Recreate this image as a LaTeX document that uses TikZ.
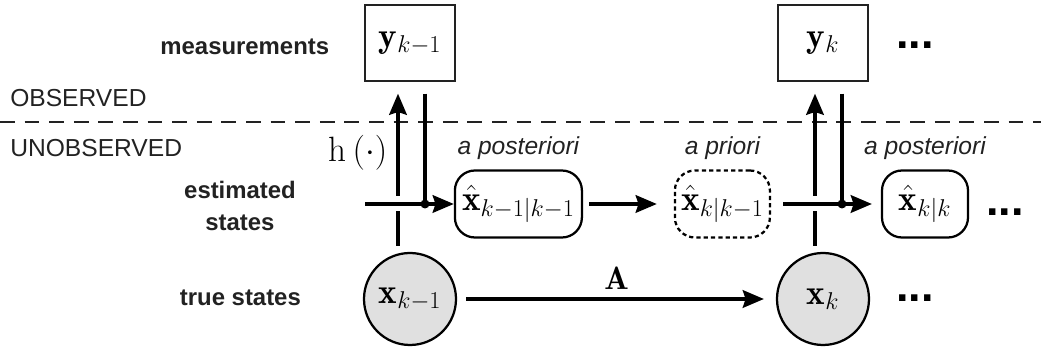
\documentclass[tikz,border=0pt]{standalone}
\usepackage{fontspec}
\setsansfont{Liberation Sans}
\usetikzlibrary{positioning, arrows.meta, calc}
\definecolor{inkgray}{HTML}{222222}
\definecolor{stategray}{HTML}{E0E0E0}

\begin{document}
\begin{tikzpicture}[
    font=\sffamily\fontsize{17.5}{22.5}\selectfont,
    rowlabel/.style={align=center, text=inkgray, font=\sffamily\bfseries\fontsize{17}{22.5}\selectfont},
    zonelabel/.style={anchor=west, inner sep=0pt, text=inkgray},
    phaselabel/.style={text=inkgray, font=\sffamily\itshape\fontsize{17.5}{22.5}\selectfont},
    mathtext/.style={font=\fontsize{25}{29}\selectfont},
    measbox/.style={rectangle, draw=inkgray, line width=1pt, minimum width=2.25cm, minimum height=1.9cm, inner sep=0pt, mathtext},
    estbox/.style={rectangle, draw=black, line width=1.6pt, rounded corners=0.5cm, minimum height=1.675cm, inner sep=0pt, mathtext},
    priorbox/.style={estbox, dash pattern=on 3pt off 2.2pt},
    statecircle/.style={circle, draw=black, fill=stategray, line width=1.6pt, minimum size=2.3cm, inner sep=0pt, mathtext},
    moredots/.style={inner sep=0pt, font=\sffamily\bfseries\fontsize{32}{32}\selectfont},
    wire/.style={black, line width=2.35pt},
    arrowed/.style={-{Stealth[length=15pt, width=12.5pt, inset=2pt]}},
    sepline/.style={inkgray, line width=0.9pt, dash pattern=on 10.5pt off 7pt}
]
\useasboundingbox (0,0) rectangle (26.025,-8.7);

% ==================== ROW LABELS ====================
\node[rowlabel] (meas) at (6.12,-1.175) {measurements};
\node[rowlabel] (est) at (6.0,-5.15) {estimated\\states};
\node[rowlabel] (true) at (6.01,-7.45) {true states};

\node[zonelabel] (obs) at (0.25,-2.46) {OBSERVED};
\node[zonelabel] (unobs) at (0.25,-3.71) {UNOBSERVED};

% ==================== NODES ====================
\node[measbox] (yk1) at (10.25,-1.075) {$\mathbf{y}_{k-1}$};
\node[measbox] (yk) at (20.575,-1.075) {$\mathbf{y}_{k}$};

\node[estbox, minimum width=3.175cm] (post1) at (12.96,-5.1) {$\hat{\mathbf{x}}_{k-1|k-1}$};
\node[priorbox, minimum width=2.375cm] (prior) at (18.06,-5.1) {$\hat{\mathbf{x}}_{k|k-1}$};
\node[estbox, minimum width=2.15cm] (post2) at (23.125,-5.1) {$\hat{\mathbf{x}}_{k|k}$};

\node[statecircle] (xk1) at (10.25,-7.475) {$\mathbf{x}_{k-1}$};
\node[statecircle] (xk) at (20.575,-7.475) {$\mathbf{x}_{k}$};

\node[moredots] (ydots) at (22.875,-1.125) {...};
\node[moredots] (estdots) at (25.125,-5.3) {...};
\node[moredots] (xdots) at (22.875,-7.45) {...};

% ==================== ANNOTATIONS ====================
\node[phaselabel, above=0.12cm of post1] (postlab1) {a posteriori};
\node[phaselabel, above=0.12cm of prior] (priorlab) {a priori};
\node[phaselabel, above=0.12cm of post2] (postlab2) {a posteriori};
\node[mathtext] (hlab) at (8.95,-3.83) {$\mathrm{h}\,(\cdot)$};

% ==================== SEPARATOR ====================
\coordinate (sepL) at (0,-3.05);
\coordinate (sepR) at (26.025,-3.05);
\draw[sepline] (sepL) -- (sepR);

% ==================== STEP k-1 ====================
\coordinate (hupA) at ($(yk1.south)+(-0.3,-0.3)$);
\coordinate (updA) at ($(yk1.south)+(0.375,-0.3)$);
\coordinate (joinA) at (updA |- post1.west);
\coordinate (feedA) at ($(hupA |- post1.west)+(-0.825,0)$);

\draw[wire] ($(xk1.north)+(-0.3,0.15)$) -- ($(hupA |- post1.west)+(0,-0.175)$);
\draw[wire, arrowed] ($(hupA |- post1.west)+(0,0.2)$) -- (hupA);
\draw[wire] (updA) -- (joinA);
\draw[wire, arrowed] (feedA) -- (post1.west);
\fill (joinA) circle (3.2pt);

% ==================== PREDICTION ====================
\draw[wire, arrowed, shorten <=0.15cm, shorten >=0.425cm] (post1.east) -- (prior.west);
\draw[wire, arrowed, shorten <=0.225cm, shorten >=0.3cm] (xk1.east) -- (xk.west)
    node[midway, above=2pt, font=\fontsize{23}{27}\selectfont] (Alab) {$\mathbf{A}$};

% ==================== STEP k ====================
\coordinate (hupB) at ($(yk.south)+(-0.2,-0.3)$);
\coordinate (updB) at ($(yk.south)+(0.475,-0.3)$);
\coordinate (joinB) at (updB |- post2.west);

\draw[wire] ($(xk.north)+(-0.2,0.15)$) -- ($(hupB |- post2.west)+(0,-0.175)$);
\draw[wire, arrowed] ($(hupB |- post2.west)+(0,0.2)$) -- (hupB);
\draw[wire] (updB) -- (joinB);
\draw[wire, arrowed, shorten <=0.3cm, shorten >=0.225cm] (prior.east) -- (post2.west);
\fill (joinB) circle (3.2pt);

\end{tikzpicture}
\end{document}
